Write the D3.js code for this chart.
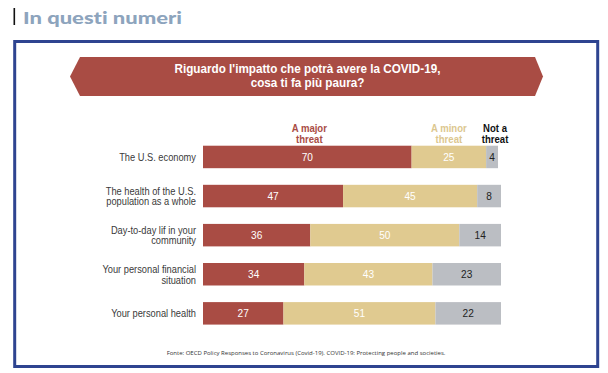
<!DOCTYPE html>
<html>
<head>
<meta charset="utf-8">
<script src="https://cdn.jsdelivr.net/npm/d3@7"></script>
<style>
  body { margin: 0; background: #fff; }
  svg { display: block; }
  text { font-family: "Liberation Sans", Arial, sans-serif; }
</style>
</head>
<body>
<div id="chart"></div>
<script>
'use strict'

//---------------------------Dati--------------------------------//
var categorie = [
  ['The U.S. economy'],
  ['The health of the U.S.', 'population as a whole'],
  ['Day-to-day lif in your', 'community'],
  ['Your personal financial', 'situation'],
  ['Your personal health']
];
var major = [70, 47, 36, 34, 27];
var minor = [25, 45, 50, 43, 51];
var notThreat = [4, 8, 14, 23, 22];
var serie = ['A major threat', 'A minor threat', 'Not a threat'];
var colori = ['#a94c44', '#e0ca90', '#bbbec3'];
var coloriTesto = ['#fff', '#fff', '#222'];
var coloriLegenda = ['#a94c44', '#dcc78f', '#111'];

var width = 608, height = 373;

var svg = d3.select('#chart').append('svg')
  .attr('width', width)
  .attr('height', height);

// testo "stretto": non c'e' un font condensed, quindi lo schiaccio in orizzontale
function stretto(sel, x, y, k) {
  return sel.attr('transform', 'translate(' + x + ',' + y + ') scale(' + k + ',1)');
}

//---------------------------Testata--------------------------------//
svg.append('rect')
  .attr('x', 13.5).attr('y', 8).attr('width', 1.6).attr('height', 17)
  .attr('fill', '#111');

svg.append('text')
  .attr('x', 23).attr('y', 24)
  .style('font-family', 'Lato, "DejaVu Sans", sans-serif')
  .style('font-variant-ligatures', 'none')
  .attr('font-weight', 900)
  .attr('font-size', 17)
  .attr('textLength', 159)
  .attr('lengthAdjust', 'spacingAndGlyphs')
  .attr('fill', '#8da4bd')
  .text('In questi numeri');

// cornice blu
svg.append('rect')
  .attr('x', 14.7).attr('y', 41.5).attr('width', 583).attr('height', 325)
  .attr('fill', 'none')
  .attr('stroke', '#2e4490')
  .attr('stroke-width', 3);

// banner
svg.append('polygon')
  .attr('points', [[70, 76.5], [80, 57], [535, 57], [543, 76.5], [535, 96], [80, 96]].map(p => p.join(',')).join(' '))
  .attr('fill', '#a94c44');

stretto(svg.append('text'), 307.5, 0, 0.9)
  .attr('text-anchor', 'middle')
  .attr('font-weight', 'bold')
  .attr('font-size', 13)
  .attr('fill', '#fff')
  .selectAll('tspan')
  .data(["Riguardo l'impatto che potrà avere la COVID-19,", 'cosa ti fa più paura?'])
  .join('tspan')
  .attr('x', 0)
  .attr('y', (d, i) => 73.5 + i * 14)
  .text(d => d);

//---------------------------Scale--------------------------------//
var x = d3.scaleLinear().domain([0, 100]).range([203, 501]);
var y = d3.scaleBand()
  .domain(categorie.map((d, i) => i))
  .range([137.4, 332.9])
  .paddingInner(0.425)
  .paddingOuter(0.2125);

var righe = categorie.map((c, i) => {
  var vals = [major[i], minor[i], notThreat[i]];
  var start = 0;
  return vals.map((v, k) => {
    var s = { riga: i, serie: k, v: v, x0: start, x1: start + v };
    start += v;
    return s;
  });
});

//---------------------------Barre--------------------------------//
var g = svg.append('g');

var segmenti = g.selectAll('g.riga')
  .data(righe)
  .join('g')
  .attr('class', 'riga')
  .selectAll('g.seg')
  .data(d => d)
  .join('g')
  .attr('class', 'seg');

segmenti.append('rect')
  .attr('x', d => x(d.x0))
  .attr('y', d => y(d.riga))
  .attr('width', d => x(d.x1) - x(d.x0))
  .attr('height', y.bandwidth())
  .attr('fill', d => colori[d.serie]);

segmenti.append('text')
  .each(function (d) {
    stretto(d3.select(this), (x(d.x0) + x(d.x1)) / 2, y(d.riga) + y.bandwidth() / 2, 0.88);
  })
  .attr('dy', '0.36em')
  .attr('text-anchor', 'middle')
  .attr('font-size', 11.5)
  .attr('fill', d => coloriTesto[d.serie])
  .text(d => d.v);

// etichette categorie
g.selectAll('text.cat')
  .data(categorie)
  .join('text')
  .attr('class', 'cat')
  .attr('text-anchor', 'end')
  .attr('font-size', 10.8)
  .attr('fill', '#3a3a3a')
  .each(function (d, i) {
    var cy = y(i) + y.bandwidth() / 2;
    var off = (d.length - 1) * 10.8 / 2;
    stretto(d3.select(this), 196, cy, 0.86);
    d3.select(this).selectAll('tspan')
      .data(d)
      .join('tspan')
      .attr('x', 0)
      .attr('y', (t, j) => -off + j * 10.8)
      .attr('dy', '0.36em')
      .text(t => t);
  });

//---------------------------Legenda--------------------------------//
var spostamento = [2, 0, 3];
svg.selectAll('text.leg')
  .data(righe[0])
  .join('text')
  .attr('class', 'leg')
  .attr('text-anchor', 'middle')
  .attr('font-weight', 'bold')
  .attr('font-size', 11)
  .attr('fill', d => coloriLegenda[d.serie])
  .each(function (d) {
    var parole = serie[d.serie].split(' ');
    var linee = [parole.slice(0, -1).join(' '), parole[parole.length - 1]];
    var cx = (x(d.x0) + x(d.x1)) / 2 + spostamento[d.serie];
    stretto(d3.select(this), cx, 0, 0.87);
    d3.select(this).selectAll('tspan')
      .data(linee)
      .join('tspan')
      .attr('x', 0)
      .attr('y', (t, j) => 131.7 + j * 11.6)
      .text(t => t);
  });

//---------------------------Fonte--------------------------------//
svg.append('text')
  .attr('x', 306).attr('y', 355)
  .attr('text-anchor', 'middle')
  .style('font-family', 'Open Sans, sans-serif')
  .attr('font-size', 6)
  .attr('fill', '#333')
  .text('Fonte: OECD Policy Responses to Coronavirus (Covid-19). COVID-19: Protecting people and societies.');
</script>
</body>
</html>
